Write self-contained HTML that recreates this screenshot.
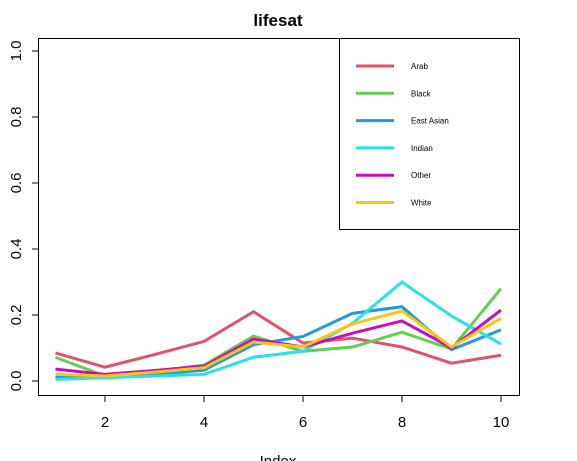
<!DOCTYPE html>
<html><head><meta charset="utf-8"><style>
body{margin:0;background:#fff;}
svg{display:block;font-family:"Liberation Sans",sans-serif;}
</style></head><body>
<svg id="chart" width="577" height="461">
<text x="278" y="26" text-anchor="middle" font-size="17" font-weight="bold">lifesat</text>
<rect x="38.5" y="38.5" width="481" height="357" fill="none" stroke="#000"/>
<g id="axes"></g>
<g id="lines"></g>
<g id="legend"></g>
<text x="278" y="466" text-anchor="middle" font-size="15">Index</text>
</svg>
<script>
const xs = [1,2,3,4,5,6,7,8,9,10];
const seriesNames = ["Arab","Black","East Asian","Indian","Other","White"];
const seriesColors = ["#DF536B","#61D04F","#2297E6","#28E2E5","#CD0BBC","#F5C710"];
const arab = [0.085,0.042,0.08,0.12,0.21,0.115,0.13,0.103,0.054,0.078];
const black = [0.072,0.015,0.03,0.048,0.136,0.09,0.103,0.148,0.097,0.28];
const eastAsian = [0.012,0.01,0.02,0.033,0.11,0.135,0.205,0.225,0.095,0.155];
const indian = [0.005,0.01,0.015,0.02,0.072,0.09,0.175,0.30,0.197,0.112];
const other = [0.036,0.02,0.032,0.045,0.127,0.103,0.145,0.182,0.1,0.215];
const white = [0.02,0.015,0.027,0.04,0.118,0.103,0.173,0.212,0.103,0.19];
const allSeries = [arab,black,eastAsian,indian,other,white];
const xTicks = [2,4,6,8,10];
const yTicks = [0,0.2,0.4,0.6,0.8,1.0];
const yTickLabels = ["0.0","0.2","0.4","0.6","0.8","1.0"];

const NS="http://www.w3.org/2000/svg";
const X = v => 55.5 + (v-1)*49.5;
const Y = v => 381 - v*330;
function mk(tag, attrs, parent){const e=document.createElementNS(NS,tag);for(const k in attrs)e.setAttribute(k,attrs[k]);parent.appendChild(e);return e;}
const axes=document.getElementById('axes');
xTicks.forEach(t=>{
  const l=mk('line',{x1:X(t),x2:X(t),y1:395.5,y2:402,stroke:'#000'},axes);
  
  
  const tx=mk('text',{x:X(t),y:427,'text-anchor':'middle','font-size':15},axes);
  tx.textContent=t;
  
  
});
yTicks.forEach((t,i)=>{
  const l=mk('line',{x1:32,x2:38.5,y1:Y(t),y2:Y(t),stroke:'#000'},axes);
  
  
  const tx=mk('text',{x:0,y:0,'text-anchor':'middle','font-size':15,transform:`translate(21,${Y(t)}) rotate(-90)`},axes);
  tx.textContent=yTickLabels[i];
  
  
});
const lines=document.getElementById('lines');
allSeries.forEach((s,i)=>{
  const p=mk('polyline',{points:s.map((v,j)=>X(xs[j])+','+Y(v)).join(' '),fill:'none',stroke:seriesColors[i],'stroke-width':3},lines);
  
  
});
const lg=document.getElementById('legend');
const box=mk('rect',{x:339.5,y:38.5,width:180,height:191,fill:'#fff',stroke:'#000'},lg);


seriesNames.forEach((n,i)=>{
  const y=66+i*27.3;
  const l=mk('line',{x1:356,x2:394,y1:y,y2:y,stroke:seriesColors[i],'stroke-width':3},lg);
  
  
  const t=mk('text',{x:411,y:y+3,'font-size':8},lg);
  t.textContent=n;
  
  
});
</script>
</body></html>
